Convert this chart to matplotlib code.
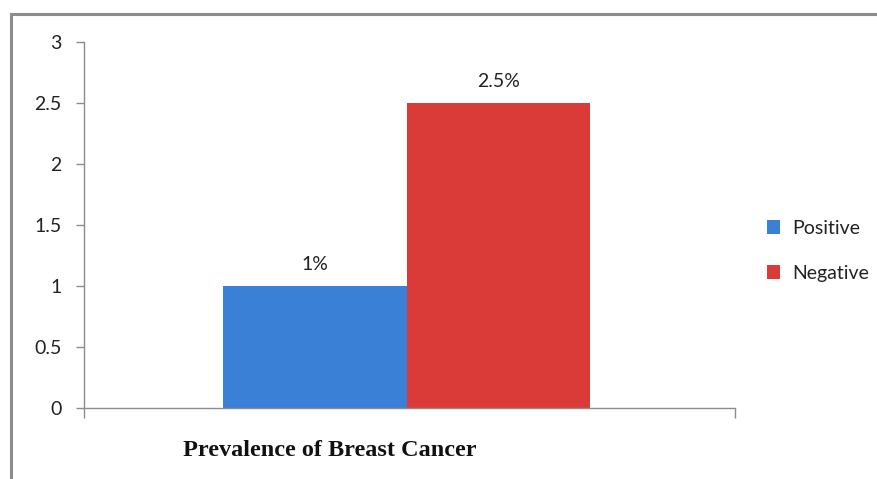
import matplotlib
matplotlib.use('Agg')
import matplotlib.pyplot as plt
import matplotlib.patches as mpatches
import numpy as np

categories = ['Prevalence of Breast Cancer']
series_names = ['Positive', 'Negative']
values = [1.0, 2.5]
value_labels = ['1%', '2.5%']
colors = ['#3B80D7', '#DA3B38']
yticks = [0, 0.5, 1, 1.5, 2, 2.5, 3]
ytick_labels = ['0', '0.5', '1', '1.5', '2', '2.5', '3']

plt.rcParams['font.family'] = ['Lato', 'DejaVu Sans']

W, H = 877, 479
fig = plt.figure(figsize=(W / 100, H / 100), dpi=100)
fig.patch.set_facecolor('white')

# outer chart frame (clipped at right and bottom like the original)
frame = mpatches.Rectangle((11 / W, -0.1), 1.2, 1 - 14 / H + 0.1, transform=fig.transFigure,
                           fill=False, edgecolor='#8c8c8c', lw=2.2, clip_on=False)
fig.patches.append(frame)

ax = fig.add_axes([84 / W, 1 - 408 / H, (735 - 84) / W, (408 - 42) / H])

bar_w = 0.282
x = np.arange(len(categories))
for i, (name, v) in enumerate(zip(series_names, values)):
    offset = (i - 0.5) * bar_w
    bars = ax.bar(x + offset, [v], width=bar_w, color=colors[i], label=name, zorder=2)
    ax.text(x[0] + offset, v + 0.11, value_labels[i], ha='center', va='bottom',
            fontsize=14, color='#222222')

ax.set_xlim(-0.496, 0.504)
ax.set_ylim(0, 3)
ax.set_yticks(yticks)
ax.set_yticklabels(ytick_labels, fontsize=14, color='#222222')
ax.tick_params(axis='y', length=6, width=1, color='#8c8c8c', pad=10)
ax.set_xticks([-0.496, 0.504])
ax.set_xticklabels(['', ''])
ax.tick_params(axis='x', length=7, width=1, color='#8c8c8c', direction='out')

for s in ['top', 'right']:
    ax.spines[s].set_visible(False)
for s in ['left', 'bottom']:
    ax.spines[s].set_color('#8c8c8c')
    ax.spines[s].set_linewidth(1)

fig.text(330 / W, 1 - 450 / H, categories[0], ha='center', va='center',
         family='Liberation Serif', fontweight='bold', fontsize=17.5, color='#111111')

leg = fig.legend(loc='center left', bbox_to_anchor=(749 / W, 1 - 251 / H), frameon=False,
                 fontsize=14, handlelength=0.7, handleheight=0.7, labelspacing=1.45,
                 handletextpad=0.6)
for t in leg.get_texts():
    t.set_color('#222222')

fig.savefig('out.png', dpi=100)
